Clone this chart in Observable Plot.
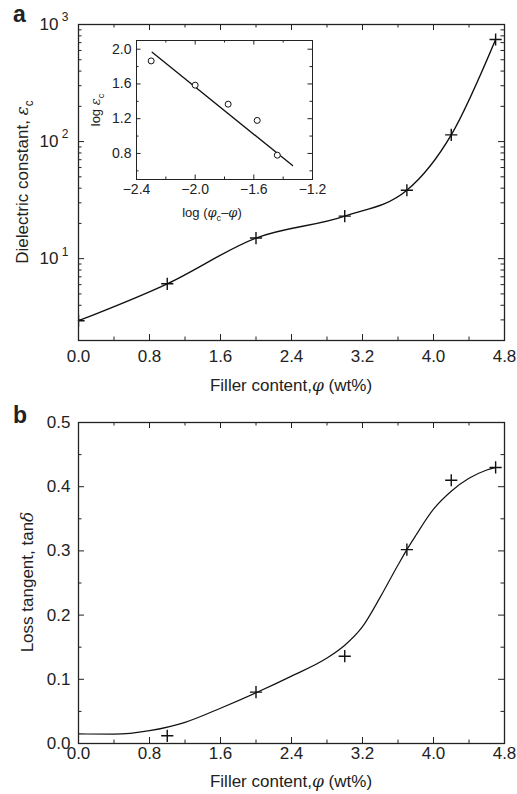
<!DOCTYPE html>
<html><head><meta charset="utf-8">
<script src="https://cdn.jsdelivr.net/npm/d3@7"></script>
<script src="https://cdn.jsdelivr.net/npm/@observablehq/plot@0.6"></script>
<style>
body{margin:0;background:#fff;}
#wrap{position:relative;width:517px;height:794px;font-family:"Liberation Sans",Arial,Helvetica,sans-serif;}
#wrap svg{position:absolute;display:block;overflow:visible;}
</style></head><body><div id="wrap"></div>
<script>
// ---- data ----
const phi = [0, 1.0, 2.0, 3.0, 3.7, 4.2, 4.7];
const epsC = [2.95, 6.1, 15.0, 23.1, 38.4, 114, 745];
const tanPhi = [1.0, 2.0, 3.0, 3.7, 4.2, 4.7];
const tanD = [0.012, 0.080, 0.136, 0.302, 0.410, 0.430];
const fitPhi = [0, 0.4, 0.8, 1.2, 1.6, 2.0, 2.4, 2.8, 3.0, 3.2, 3.4, 3.6, 3.7, 3.8, 4.0, 4.2, 4.4, 4.6, 4.7];
const fitTan = [0.015, 0.0145, 0.020, 0.033, 0.055, 0.079, 0.105, 0.133, 0.153, 0.182, 0.228, 0.278, 0.302, 0.324, 0.365, 0.393, 0.413, 0.426, 0.430];
const insetX = [-2.30, -2.00, -1.775, -1.577, -1.44];
const insetY = [1.865, 1.586, 1.367, 1.18, 0.78];
const insetFitX = [-2.293, -1.336];
const insetFitY = [1.965, 0.66];
// ticks
const xMajor = [0, 0.8, 1.6, 2.4, 3.2, 4.0, 4.8];
const xMinor = [0.4, 1.2, 2.0, 2.8, 3.6, 4.4];
const logMajor = [10, 100, 1000];
const logExp = ["1", "2", "3"];
const logMinor = [2,3,4,5,6,7,8,9,20,30,40,50,60,70,80,90,200,300,400,500,600,700,800,900];
const tanMajor = [0, 0.1, 0.2, 0.3, 0.4, 0.5];
const tanMinor = [0.05, 0.15, 0.25, 0.35, 0.45];
const inXMajor = [-2.4, -2.0, -1.6, -1.2];
const inXMinor = [-2.2, -1.8, -1.4];
const inYMajor = [0.8, 1.2, 1.6, 2.0];
const inYMinor = [0.6, 1.0, 1.4, 1.8];

const INK = "#222";
const FONT = "'Liberation Sans', Arial, Helvetica, sans-serif";
const FS = 17;
const wrap = document.getElementById("wrap");

function frameTicks(xMaj, xMin, yMaj, yMin, fw, fh, maj, min) {
  const tx = (vals, len) => [
    Plot.tickX(vals, {x: d => d, insetTop: fh - len, stroke: INK, strokeWidth: 1}),
    Plot.tickX(vals, {x: d => d, insetBottom: fh - len, stroke: INK, strokeWidth: 1})
  ];
  const ty = (vals, len) => [
    Plot.tickY(vals, {y: d => d, insetRight: fw - len, stroke: INK, strokeWidth: 1}),
    Plot.tickY(vals, {y: d => d, insetLeft: fw - len, stroke: INK, strokeWidth: 1})
  ];
  return [...tx(xMaj, maj), ...tx(xMin, min), ...ty(yMaj, maj), ...ty(yMin, min)];
}

function addText(svg, {x, y, rotate = 0, size = FS, weight = "normal", anchor = "middle"}, parts) {
  const t = d3.select(svg).append("text")
    .attr("transform", `translate(${x},${y}) rotate(${rotate})`)
    .attr("text-anchor", anchor)
    .attr("font-family", FONT)
    .attr("font-size", size)
    .attr("font-weight", weight)
    .attr("fill", INK);
  for (const p of parts) {
    const [s, o = {}] = Array.isArray(p) ? p : [p];
    const ts = t.append("tspan").text(s);
    if (o.italic) ts.attr("font-style", "italic").attr("font-family", "'DejaVu Serif', serif");
    if (o.sub) ts.attr("font-size", size * 0.7).attr("dy", size * 0.28);
    if (o.reset) ts.attr("dy", -size * 0.28);
  }
  return t;
}

// ---- panel a ----
const aW = 517, aH = 395, aL = 78, aR = 13, aT = 24, aB = 55;
const aFW = aW - aL - aR, aFH = aH - aT - aB;
const eps = phi.map((p, i) => ({p, e: epsC[i]}));
const plotA = Plot.plot({
  width: aW, height: aH,
  marginLeft: aL, marginRight: aR, marginTop: aT, marginBottom: aB,
  style: {fontFamily: FONT, fontSize: FS + "px", color: INK, background: "transparent"},
  x: {domain: [0, 4.8]},
  y: {type: "log", domain: [2, 1000]},
  marks: [
    ...frameTicks(xMajor, xMinor, logMajor, logMinor, aFW, aFH, 6, 3.5),
    Plot.axisX(xMajor, {tickSize: 0, tickPadding: 9, tickFormat: d3.format(".1f"), label: null, fontSize: FS}),
    Plot.axisY(logMajor, {tickSize: 0, tickPadding: 20, tickFormat: () => "10", label: null, fontSize: FS}),
    Plot.text(logMajor, {x: 0, y: d => d, text: (d) => logExp[logMajor.indexOf(d)], dx: -10, dy: -7, textAnchor: "end", fontSize: 12, fill: INK}),
    Plot.line(eps, {x: "p", y: "e", curve: "monotone-x", stroke: "#111", strokeWidth: 1.4}),
    Plot.dot(eps, {x: "p", y: "e", symbol: "plus", r: 4, stroke: "#111", strokeWidth: 1.4, clip: true}),
    Plot.frame({stroke: INK, strokeWidth: 1.3})
  ]
});
plotA.style.left = "0px"; plotA.style.top = "0px";
wrap.appendChild(plotA);
addText(plotA, {x: 291, y: 391}, ["Filler content,", ["φ", {italic: true}], " (wt%)"]);
addText(plotA, {x: 28, y: 182, rotate: -90}, ["Dielectric constant, ", ["ε", {italic: true}], ["c", {sub: true}]]);
addText(plotA, {x: 13, y: 22, size: 23, weight: "bold", anchor: "start"}, ["a"]);

// ---- inset ----
const iW = 240, iH = 205, iL = 56, iR = 8, iT = 20, iB = 46;
const iFW = iW - iL - iR, iFH = iH - iT - iB;
const pts = insetX.map((x, i) => ({x, y: insetY[i]}));
const fit = insetFitX.map((x, i) => ({x, y: insetFitY[i]}));
const plotI = Plot.plot({
  width: iW, height: iH,
  marginLeft: iL, marginRight: iR, marginTop: iT, marginBottom: iB,
  style: {fontFamily: FONT, fontSize: "14px", color: INK, background: "transparent"},
  x: {domain: [-2.4, -1.2]},
  y: {domain: [0.5, 2.1]},
  marks: [
    Plot.frame({fill: "white"}),
    ...frameTicks(inXMajor, inXMinor, inYMajor, inYMinor, iFW, iFH, 4.5, 2.5),
    Plot.axisX(inXMajor, {tickSize: 0, tickPadding: 5, tickFormat: d3.format(".1f"), label: null, fontSize: 14}),
    Plot.axisY(inYMajor, {tickSize: 0, tickPadding: 5, tickFormat: d3.format(".1f"), label: null, fontSize: 14}),
    Plot.line(fit, {x: "x", y: "y", stroke: "#111", strokeWidth: 1.3}),
    Plot.dot(pts, {x: "x", y: "y", r: 3, stroke: "#111", fill: "white", strokeWidth: 1}),
    Plot.frame({stroke: INK, strokeWidth: 1})
  ]
});
plotI.style.left = "80px"; plotI.style.top = "20px";
wrap.appendChild(plotI);
addText(plotI, {x: 132, y: 197, size: 13}, ["log (", ["φ", {italic: true}], ["c", {sub: true}], ["–", {reset: true}], ["φ", {italic: true}], ")"]);
addText(plotI, {x: 20, y: 90, rotate: -90, size: 13}, ["log ", ["ε", {italic: true}], ["c", {sub: true}]]);

// ---- panel b ----
const bW = 517, bH = 399, bL = 78, bR = 13, bT = 27, bB = 51;
const bFW = bW - bL - bR, bFH = bH - bT - bB;
const tan = tanPhi.map((p, i) => ({p, t: tanD[i]}));
const tanFitData = fitPhi.map((p, i) => ({p, t: fitTan[i]}));
const plotB = Plot.plot({
  width: bW, height: bH,
  marginLeft: bL, marginRight: bR, marginTop: bT, marginBottom: bB,
  style: {fontFamily: FONT, fontSize: FS + "px", color: INK, background: "transparent"},
  x: {domain: [0, 4.8]},
  y: {domain: [0, 0.5]},
  marks: [
    ...frameTicks(xMajor, xMinor, tanMajor, tanMinor, bFW, bFH, 6, 3.5),
    Plot.axisX(xMajor, {tickSize: 0, tickPadding: 3, tickFormat: d3.format(".1f"), label: null, fontSize: FS}),
    Plot.axisY(tanMajor, {tickSize: 0, tickPadding: 8, tickFormat: d3.format(".1f"), label: null, fontSize: FS}),
    Plot.line(tanFitData, {x: "p", y: "t", curve: "monotone-x", stroke: "#111", strokeWidth: 1.2}),
    Plot.dot(tan, {x: "p", y: "t", symbol: "plus", r: 4, stroke: "#111", strokeWidth: 1.4}),
    Plot.frame({stroke: INK, strokeWidth: 1.3})
  ]
});
plotB.style.left = "0px"; plotB.style.top = "395px";
wrap.appendChild(plotB);
addText(plotB, {x: 291, y: 392}, ["Filler content,", ["φ", {italic: true}], " (wt%)"]);
addText(plotB, {x: 33, y: 187, rotate: -90}, ["Loss tangent, tan", ["δ", {italic: true}]]);
addText(plotB, {x: 13, y: 28, size: 23, weight: "bold", anchor: "start"}, ["b"]);
</script></body></html>
